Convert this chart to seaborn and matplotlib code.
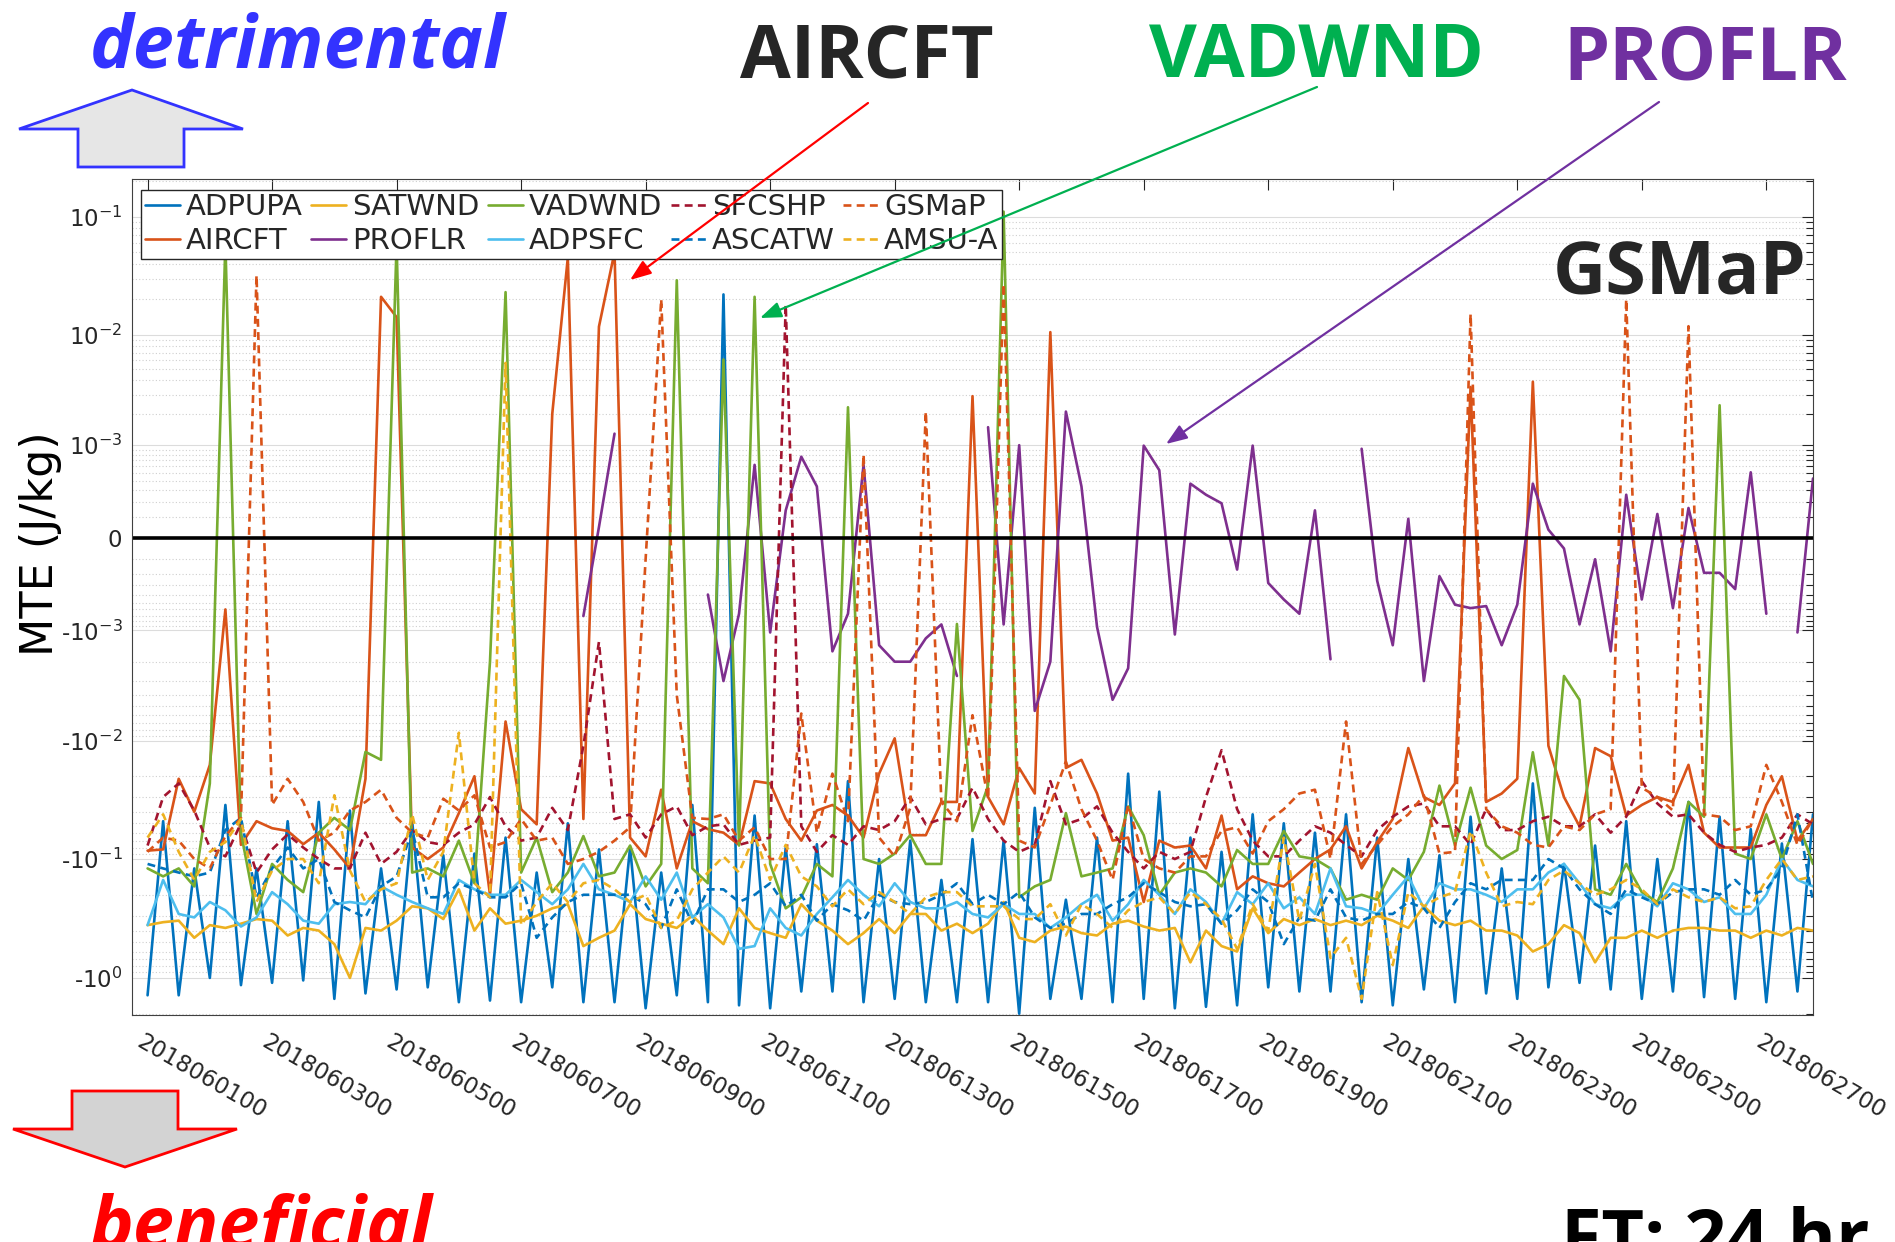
import numpy as np
import pandas as pd
import matplotlib
matplotlib.use("Agg")
import matplotlib.pyplot as plt
import matplotlib.transforms as mtransforms
from matplotlib.lines import Line2D
from matplotlib.patches import Polygon
from matplotlib.ticker import NullLocator
import seaborn as sns

nan = np.nan

# Moist total energy impact per observation type, 6-hourly cycles (J/kg)
adpupa = [
    -1.4, -0.048, -1.4, -0.12, -1.0, -0.035, -1.15, -0.12, -1.1, -0.048, -1.05, -0.033, -1.5, -0.039, -1.35, -0.12, -1.25, -0.048,
    -1.2, -0.093, -1.6, -0.09, -1.55, -0.066, -1.6, -0.13, -1.2, -0.05, -1.6, -0.083, -1.6, -0.08, -1.8, -0.13, -1.4, -0.035,
    -1.6, 0.022, -1.7, -0.043, -1.8, -0.08, -1.3, -0.075, -1.3, -0.022, -1.6, -0.1, -1.5, -0.07, -1.6, -0.15, -1.6, -0.068,
    -1.6, -0.07, -2.0, -0.037, -1.5, -0.22, -1.5, -0.066, -1.6, -0.019, -1.5, -0.027, -1.8, -0.066, -1.75, -0.087, -1.7, -0.042,
    -1.2, -0.05, -1.3, -0.06, -1.3, -0.042, -1.6, -0.066, -1.7, -0.1, -1.25, -0.093, -1.6, -0.044, -1.35, -0.12, -1.5, -0.023,
    -1.2, -0.11, -1.1, -0.077, -1.25, -0.048, -1.5, -0.1, -1.3, -0.033, -1.45, -0.044, -1.5, -0.056, -1.6, -0.074, -1.3, -0.042,
]
aircft = [
    -0.085, -0.083, -0.021, -0.040, -0.016, -0.0006, -0.076, -0.048, -0.055, -0.058, -0.075, -0.06, -0.083, -0.12, -0.021, 0.021, 0.0141, -0.08,
    -0.1, -0.08, -0.041, -0.02, -0.2, -0.0068, -0.038, -0.051, 0.002, 0.045, -0.046, 0.0117, 0.05, -0.066, -0.095, -0.026, -0.12, -0.048,
    -0.056, -0.06, -0.076, -0.022, -0.023, -0.046, -0.07, -0.039, -0.035, -0.043, -0.066, -0.019, -0.0095, -0.063, -0.063, -0.033, -0.033, 0.0029,
    -0.03, -0.051, -0.017, -0.028, 0.0105, -0.017, -0.0145, -0.028, -0.07, -0.066, -0.23, -0.07, -0.08, -0.077, -0.12, -0.043, -0.18, -0.14,
    -0.16, -0.17, -0.13, -0.1, -0.083, -0.053, -0.12, -0.072, -0.046, -0.0115, -0.03, -0.035, -0.023, 0.0035, -0.033, -0.028, -0.021, 0.0039,
    -0.011, -0.03, -0.053, -0.0115, -0.0135, -0.043, -0.035, -0.03, -0.033, -0.016, -0.06, -0.08, -0.08, -0.08, -0.035, -0.02, -0.07, -0.046,
]
satwnd = [
    -0.36, -0.34, -0.33, -0.46, -0.36, -0.38, -0.35, -0.32, -0.33, -0.44, -0.38, -0.40, -0.52, -1.0, -0.38, -0.40, -0.33, -0.25,
    -0.26, -0.32, -0.18, -0.40, -0.26, -0.35, -0.33, -0.30, -0.26, -0.24, -0.54, -0.46, -0.40, -0.24, -0.32, -0.35, -0.38, -0.30,
    -0.40, -0.52, -0.26, -0.38, -0.42, -0.46, -0.24, -0.33, -0.40, -0.52, -0.42, -0.32, -0.42, -0.29, -0.29, -0.40, -0.35, -0.42,
    -0.35, -0.23, -0.46, -0.50, -0.40, -0.37, -0.42, -0.44, -0.35, -0.33, -0.37, -0.40, -0.38, -0.74, -0.40, -0.54, -0.60, -0.26,
    -0.42, -0.32, -0.36, -0.32, -0.36, -0.33, -0.36, -0.30, -0.33, -0.38, -0.25, -0.33, -0.36, -0.33, -0.40, -0.40, -0.44, -0.60,
    -0.52, -0.36, -0.42, -0.74, -0.46, -0.46, -0.40, -0.46, -0.40, -0.38, -0.38, -0.40, -0.40, -0.46, -0.40, -0.44, -0.38, -0.40,
]
proflr = [
    nan, nan, nan, nan, nan, nan, nan, nan, nan, nan, nan, nan, nan, nan, nan, nan, nan, nan,
    nan, nan, nan, nan, nan, nan, nan, nan, nan, nan, -0.00071, 0.000046, 0.0013, nan, nan, nan, nan, nan,
    -0.00040, -0.0030, -0.00067, 0.00062, -0.00105, 0.00014, 0.00076, 0.00034, -0.0016, -0.00067, 0.00062, -0.0014, -0.0020, -0.0020, -0.0012, -0.00087, -0.0027, nan,
    0.0015, -0.00087, 0.0010, -0.0055, -0.0020, 0.0021, 0.00034, -0.00092, -0.0044, -0.0023, 0.00099, 0.00054, -0.0011, 0.00037, 0.00026, 0.00019, -0.00017, 0.00099,
    -0.00028, -0.00046, -0.00067, 0.00014, -0.0019, nan, 0.00092, -0.00026, -0.0014, 0.000089, -0.0030, -0.00022, -0.00053, -0.00058, -0.00055, -0.0014, -0.00053, 0.00037,
    0.000034, -0.000046, -0.00087, -0.000103, -0.0016, 0.00026, -0.00046, 0.000117, -0.00058, 0.000156, -0.000194, -0.000194, -0.00034, 0.00051, -0.00067, nan, -0.00105, 0.00043,
]
vadwnd = [
    -0.12, -0.14, -0.12, -0.17, -0.023, 0.06, -0.06, -0.29, -0.11, -0.15, -0.19, -0.06, -0.045, -0.057, -0.0124, -0.0145, 0.06, -0.13,
    -0.12, -0.14, -0.07, -0.16, -0.002, 0.023, -0.13, -0.066, -0.19, -0.13, -0.064, -0.14, -0.13, -0.077, -0.17, -0.11, 0.029, -0.12,
    -0.16, 0.0061, -0.077, 0.021, -0.11, -0.26, -0.21, -0.11, -0.14, 0.0023, -0.1, -0.11, -0.09, -0.063, -0.11, -0.11, -0.00086, -0.058,
    -0.024, 0.11, -0.21, -0.17, -0.15, -0.041, -0.14, -0.13, -0.12, -0.036, -0.063, -0.2, -0.13, -0.12, -0.13, -0.17, -0.084, -0.11,
    -0.11, -0.058, -0.095, -0.1, -0.12, -0.22, -0.2, -0.22, -0.12, -0.15, -0.087, -0.024, -0.077, -0.025, -0.077, -0.1, -0.084, -0.0125,
    -0.077, -0.0027, -0.0044, -0.18, -0.2, -0.11, -0.19, -0.23, -0.12, -0.033, -0.044, 0.0024, -0.09, -0.1, -0.042, -0.1, -0.048, -0.11,
]
adpsfc = [
    -0.36, -0.15, -0.29, -0.31, -0.23, -0.27, -0.37, -0.31, -0.19, -0.24, -0.33, -0.35, -0.24, -0.23, -0.24, -0.17, -0.20, -0.23,
    -0.26, -0.29, -0.15, -0.18, -0.20, -0.20, -0.15, -0.19, -0.24, -0.18, -0.11, -0.18, -0.20, -0.23, -0.14, -0.22, -0.13, -0.31,
    -0.24, -0.31, -0.57, -0.54, -0.26, -0.38, -0.44, -0.29, -0.21, -0.15, -0.20, -0.25, -0.16, -0.23, -0.26, -0.26, -0.23, -0.29,
    -0.31, -0.24, -0.29, -0.29, -0.38, -0.31, -0.24, -0.20, -0.33, -0.24, -0.15, -0.20, -0.29, -0.18, -0.23, -0.35, -0.19, -0.24,
    -0.16, -0.26, -0.21, -0.29, -0.12, -0.25, -0.26, -0.29, -0.20, -0.14, -0.26, -0.16, -0.18, -0.18, -0.20, -0.23, -0.18, -0.18,
    -0.13, -0.11, -0.16, -0.24, -0.26, -0.20, -0.20, -0.25, -0.16, -0.18, -0.23, -0.21, -0.29, -0.29, -0.20, -0.10, -0.15, -0.17,
]
sfcshp = [
    -0.077, -0.030, -0.023, -0.039, -0.080, -0.095, -0.050, -0.13, -0.083, -0.062, -0.080, -0.10, -0.12, -0.12, -0.060, -0.11, -0.087, -0.057,
    -0.072, -0.076, -0.060, -0.051, -0.030, -0.053, -0.070, -0.066, -0.037, -0.057, -0.011, -0.0013, -0.046, -0.042, -0.066, -0.042, -0.036, -0.063,
    -0.053, -0.051, -0.076, -0.070, -0.066, 0.018, -0.053, -0.087, -0.063, -0.076, -0.053, -0.057, -0.048, -0.030, -0.051, -0.046, -0.046, -0.025,
    -0.046, -0.070, -0.087, -0.076, -0.022, -0.051, -0.046, -0.036, -0.060, -0.087, -0.12, -0.087, -0.10, -0.087, -0.030, -0.012, -0.038, -0.070,
    -0.095, -0.095, -0.070, -0.053, -0.060, -0.076, -0.095, -0.057, -0.044, -0.036, -0.034, -0.053, -0.053, -0.076, -0.038, -0.057, -0.057, -0.048,
    -0.044, -0.053, -0.053, -0.042, -0.060, -0.044, -0.022, -0.034, -0.044, -0.042, -0.060, -0.076, -0.087, -0.080, -0.076, -0.066, -0.042, -0.051,
]
ascatw = [
    -0.11, -0.12, -0.13, -0.14, -0.13, -0.057, -0.045, -0.21, -0.12, -0.08, -0.12, -0.10, -0.23, -0.27, -0.31, -0.17, -0.14, -0.057,
    -0.21, -0.21, -0.16, -0.18, -0.21, -0.21, -0.16, -0.46, -0.31, -0.23, -0.20, -0.20, -0.20, -0.20, -0.24, -0.38, -0.18, -0.35,
    -0.18, -0.18, -0.23, -0.20, -0.16, -0.25, -0.20, -0.33, -0.24, -0.27, -0.33, -0.20, -0.23, -0.24, -0.23, -0.20, -0.16, -0.24,
    -0.20, -0.24, -0.19, -0.31, -0.38, -0.35, -0.29, -0.29, -0.24, -0.21, -0.16, -0.19, -0.23, -0.25, -0.24, -0.35, -0.27, -0.18,
    -0.23, -0.52, -0.31, -0.33, -0.18, -0.31, -0.33, -0.29, -0.29, -0.23, -0.26, -0.38, -0.23, -0.16, -0.18, -0.15, -0.15, -0.15,
    -0.10, -0.12, -0.18, -0.24, -0.29, -0.18, -0.21, -0.24, -0.19, -0.18, -0.18, -0.20, -0.15, -0.20, -0.18, -0.12, -0.042, -0.23,
]
gsmap = [
    -0.087, -0.066, -0.070, -0.10, -0.12, -0.064, -0.045, 0.032, -0.035, -0.021, -0.033, -0.070, -0.060, -0.039, -0.033, -0.026, -0.045, -0.060,
    -0.066, -0.031, -0.039, -0.029, -0.080, -0.072, -0.046, -0.070, -0.066, -0.11, -0.10, -0.087, -0.070, -0.054, -0.0001, 0.020, -0.004, -0.045,
    -0.046, -0.042, -0.070, -0.054, -0.10, -0.10, -0.0058, -0.060, -0.019, -0.048, 0.0008, -0.066, -0.095, -0.037, 0.0021, -0.033, -0.048, -0.006,
    -0.031, 0.027, -0.070, -0.080, -0.035, -0.015, -0.038, -0.070, -0.15, -0.035, -0.10, -0.12, -0.13, -0.095, -0.095, -0.058, -0.054, -0.090,
    -0.048, -0.038, -0.028, -0.026, -0.10, -0.0068, -0.11, -0.076, -0.053, -0.042, -0.029, -0.090, -0.087, 0.015, -0.038, -0.053, -0.060, -0.076,
    -0.080, -0.053, -0.057, -0.042, -0.038, 0.020, -0.025, -0.030, -0.039, 0.0118, -0.042, -0.044, -0.057, -0.053, -0.016, -0.033, -0.076, -0.046,
]
amsua = [
    -0.066, -0.042, -0.087, -0.15, -0.087, -0.072, -0.046, -0.23, -0.125, -0.10, -0.10, -0.16, -0.029, -0.125, -0.23, -0.18, -0.16, -0.042,
    -0.15, -0.087, -0.0085, -0.16, -0.21, 0.0057, -0.36, -0.23, -0.16, -0.23, -0.16, -0.15, -0.18, -0.23, -0.20, -0.38, -0.33, -0.18,
    -0.13, -0.095, -0.13, -0.063, -0.15, -0.076, -0.14, -0.17, -0.25, -0.18, -0.24, -0.19, -0.23, -0.29, -0.21, -0.19, -0.19, -0.25,
    -0.25, -0.25, -0.32, -0.32, -0.24, -0.44, -0.24, -0.29, -0.38, -0.27, -0.23, -0.21, -0.29, -0.19, -0.24, -0.32, -0.57, -0.24,
    -0.40, -0.066, -0.33, -0.11, -0.68, -0.46, -1.5, -0.19, -0.78, -0.19, -0.25, -0.21, -0.19, -0.058, -0.13, -0.25, -0.23, -0.24,
    -0.15, -0.125, -0.16, -0.20, -0.18, -0.15, -0.18, -0.24, -0.18, -0.21, -0.23, -0.21, -0.26, -0.25, -0.15, -0.10, -0.15, -0.14,
]

obs_names = ["ADPUPA", "AIRCFT", "SATWND", "PROFLR", "VADWND",
             "ADPSFC", "SFCSHP", "ASCATW", "GSMaP", "AMSU-A"]
obs_values = [adpupa, aircft, satwnd, proflr, vadwnd,
              adpsfc, sfcshp, ascatw, gsmap, amsua]
obs_colors = ["#0072BD", "#D95319", "#EDB120", "#7E2F8E", "#77AC30",
              "#4DBEEE", "#A2142F", "#0072BD", "#D95319", "#EDB120"]
obs_dashed = [False, False, False, False, False, False, True, True, True, True]

major_ticks = [0.1, 0.01, 0.001, 0, -0.001, -0.01, -0.1, -1]
major_labels = [r"$\mathregular{10^{-1}}$", r"$\mathregular{10^{-2}}$", r"$\mathregular{10^{-3}}$", "0",
                r"-$\mathregular{10^{-3}}$", r"-$\mathregular{10^{-2}}$", r"-$\mathregular{10^{-1}}$",
                r"-$\mathregular{10^{0}}$"]

times = pd.date_range("2018-06-01 00:00", periods=108, freq="6h")
tick_times = pd.date_range("2018-06-01 00:00", "2018-06-27 00:00", freq="2D")

sns.set_theme(style="white")
plt.rcParams["font.family"] = ["DejaVu Sans"]

DASH = (0, (3.0, 2.0))
LW = 1.9

fig = plt.figure(figsize=(18.95, 12.42), dpi=100)
ax = fig.add_axes([0.06966, 0.18277, 0.88707, 0.67311])

for name, vals, color, dashed in zip(obs_names, obs_values, obs_colors, obs_dashed):
    df = pd.DataFrame({"time": times, "mte": vals})
    df["segment"] = df["mte"].isna().cumsum()
    df = df.dropna()
    sns.lineplot(data=df, x="time", y="mte", units="segment", estimator=None,
                 color=color, linestyle=DASH if dashed else "-", linewidth=LW,
                 ax=ax, legend=False)

ax.axhline(0, color="black", lw=2.6, zorder=2.5)

# signed-log axis: sign(v) * log10(1 + |v| / C)
C = 2e-4


def fwd(v):
    v = np.asarray(v, dtype=float)
    return np.sign(v) * np.log10(1.0 + np.abs(v) / C)


def inv(t):
    t = np.asarray(t, dtype=float)
    return np.sign(t) * C * (10.0 ** np.abs(t) - 1.0)


ax.set_yscale("function", functions=(fwd, inv))
ymin, ymax = -2.05, 0.207
ax.set_ylim(ymin, ymax)
ax.set_yticks(major_ticks)
ax.set_yticklabels(major_labels)
minor = [s * k * 10.0 ** n for s in (1, -1) for n in range(-4, 1)
         for k in range(1, 10) if not (k == 1 and n >= -3)]
minor = [m for m in minor if ymin < m < ymax]
ax.set_yticks(minor, minor=True)

ax.set_xlim(times[0] - pd.Timedelta(hours=6), times[-1])
ax.set_xticks(tick_times)
ax.set_xticklabels([t.strftime("%Y%m%d%H") for t in tick_times],
                   rotation=-30, ha="left", va="top", rotation_mode="anchor")
ax.xaxis.set_minor_locator(NullLocator())

ax.set_axisbelow(True)
ax.grid(which="major", axis="y", color="#dcdcdc", lw=0.8, ls="-")
ax.grid(which="minor", axis="y", color="#cfcfcf", lw=0.8, ls=(0, (1, 2)))
ax.grid(which="major", axis="x", visible=False)

ax.tick_params(axis="both", which="both", direction="in", top=True, right=True,
               colors="#262626", labelsize=16.5, width=0.8)
ax.tick_params(axis="both", which="major", length=8)
ax.tick_params(axis="both", which="minor", length=5)
ax.tick_params(axis="x", pad=11)
ax.tick_params(axis="y", pad=7)
for sp in ax.spines.values():
    sp.set_color("#404040")
    sp.set_linewidth(0.8)

shift = mtransforms.ScaledTranslation(-3 / 100, 0, fig.dpi_scale_trans)
for lab in ax.get_xticklabels():
    lab.set_transform(lab.get_transform() + shift)

ax.set_xlabel("")
ax.set_ylabel("MTE (J/kg)", fontsize=32, color="black", va="center")
ax.yaxis.set_label_coords(-0.0547, 0.5634)

handles = [Line2D([], [], color=c, lw=LW, ls=DASH if d else "-")
           for c, d in zip(obs_colors, obs_dashed)]
leg = ax.legend(handles, obs_names, ncol=5, loc="upper left",
                bbox_to_anchor=(0.0054, 0.987), borderaxespad=0,
                fontsize=21, handlelength=1.2, handletextpad=0.2,
                columnspacing=0.3, labelspacing=0.2, borderpad=0.12,
                frameon=True, fancybox=False, framealpha=1,
                edgecolor="#262626")
leg.get_frame().set_linewidth(1.0)
leg.set_zorder(10)

# overlay in pixel coordinates for callouts
ov = fig.add_axes([0, 0, 1, 1], zorder=20)
ov.set_xlim(0, 1895)
ov.set_ylim(1242, 0)
ov.axis("off")
ov.patch.set_alpha(0)

up_arrow = [(132, 90), (19, 129), (78, 129), (78, 167), (184, 167), (184, 129), (243, 129)]
down_arrow = [(72, 1091), (178, 1091), (178, 1129), (237, 1129), (125, 1167), (13, 1129), (72, 1129)]
ov.add_patch(Polygon(up_arrow, closed=True, facecolor="#E6E6E6", edgecolor="#3333FF", lw=2))
ov.add_patch(Polygon(down_arrow, closed=True, facecolor="#D3D3D3", edgecolor="#FF0000", lw=2))

big = dict(fontsize=53, fontweight="bold", family="Open Sans", va="baseline", ha="left")
ov.text(90, 68, "detrimental", color="#3333FF", fontstyle="italic", **big)
ov.text(90, 1249, "beneficial", color="#FF0000", fontstyle="italic", **big)
ov.text(740, 77, "AIRCFT", color="#262626", **big)
ov.text(1149, 77, "VADWND", color="#00B050", **big)
ov.text(1563, 79, "PROFLR", color="#7030A0", **big)
ov.text(1553, 293, "GSMaP", color="#262626", **big)
ov.text(1561, 1262, "FT: 24 hr", color="black", **big)

for start, end, col in [((868, 103), (630, 280), "#FF0000"),
                        ((1317, 87), (760, 318), "#00B050"),
                        ((1659, 102), (1166, 444), "#7030A0")]:
    ov.annotate("", xy=end, xytext=start,
                arrowprops=dict(arrowstyle="-|>,head_length=0.8,head_width=0.3",
                                color=col, lw=1.6, shrinkA=0, shrinkB=0,
                                mutation_scale=16))

fig.savefig("out.png", dpi=100)
